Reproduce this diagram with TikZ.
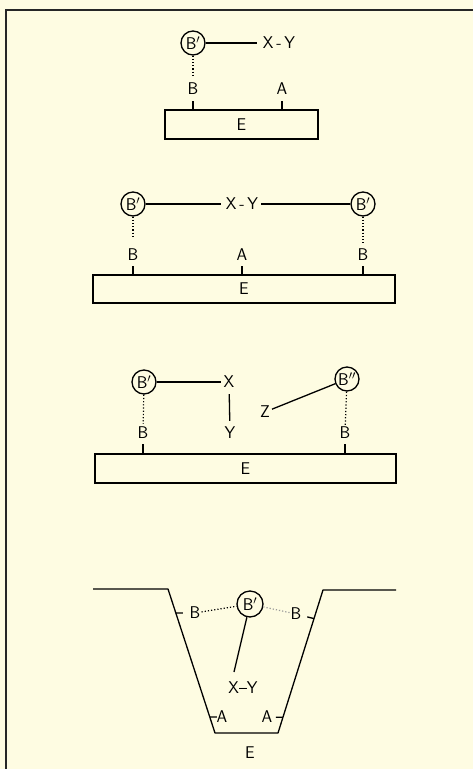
\documentclass[tikz,border=0pt]{standalone}
\usetikzlibrary{calc}
\definecolor{papercream}{RGB}{254,252,226}
\tikzset{
  lbl/.style={font=\sffamily\fontsize{17}{20}\selectfont, inner sep=1pt},
  bubble/.style={lbl, draw, circle, line width=1.3pt, minimum size=24pt, inner sep=0pt},
  plate/.style={lbl, draw, line width=1.3pt},
  link/.style={line width=1.3pt},
  guide/.style={dotted, line width=1.2pt}
}
\begin{document}
\begin{tikzpicture}[x=1pt, y=-1pt]
    % Paper and frame
    \fill[papercream] (0,0) rectangle (473,769);
    \useasboundingbox (0,0) rectangle (473,769);
    \draw[line width=2pt, black!85] (6,769) -- (6,10) -- (473,10);

    % Panel 1
    \node[plate, minimum width=153pt, minimum height=29pt] (box1) at (241.5,124.5) {E};
    \node[bubble] (c1) at (193,43) {B$'$};
    \node[lbl] (xy1) at (279,43) {X\,-\,Y};
    \node[lbl] (b1) at (193,89) {B};
    \node[lbl] (a1) at (282,89) {A};
    \draw[link, shorten >=5pt] (c1) -- (xy1);
    \draw[guide, shorten >=7pt] (c1) -- (b1);
    \foreach \t in {b1,a1}
        \draw[link, shorten <=5pt] (\t.south) -- (\t.south |- box1.north);

    % Panel 2
    \node[plate, minimum width=302pt, minimum height=28pt] (box2) at (244,289) {E};
    \node[bubble] (c2a) at (133,204) {B$'$};
    \node[bubble] (c2b) at (363,204) {B$'$};
    \node[lbl] (xy2) at (242,204) {X\,-\,Y};
    \node[lbl] (b2a) at (133,255) {B};
    \node[lbl] (a2) at (242,255) {A};
    \node[lbl] (b2b) at (363,255) {B};
    \draw[link, shorten >=4pt] (c2a) -- (xy2);
    \draw[link, shorten <=2pt] (xy2) -- (c2b);
    \draw[guide, shorten >=11pt] (c2a) -- (b2a);
    \draw[guide, shorten >=5pt] (c2b) -- (b2b);
    \foreach \t in {b2a,a2,b2b}
        \draw[link, shorten <=4pt] (\t.south) -- (\t.south |- box2.north);

    % Panel 3
    \node[plate, minimum width=301pt, minimum height=29pt] (box3) at (245.5,468.5) {E};
    \node[bubble] (c3a) at (144,382) {B$'$};
    \node[bubble] (c3b) at (347,379) {B$''$};
    \node[lbl] (x3) at (229,382) {X};
    \node[lbl] (y3) at (230,433) {Y};
    \node[lbl] (z3) at (265,412) {Z};
    \node[lbl] (b3a) at (143,433) {B};
    \node[lbl] (b3b) at (345,433) {B};
    \draw[link, shorten >=1pt] (c3a) -- (x3);
    \draw[link, shorten <=5pt, shorten >=5pt] (x3) -- (y3);
    \draw[link, shorten <=1pt] (z3) -- (c3b);
    \draw[guide, shorten >=2pt] (c3a) -- (b3a);
    \draw[guide] (c3b) -- (b3b);
    \foreach \t in {b3a,b3b}
        \draw[link, shorten <=4pt] (\t.south) -- (\t.south |- box3.north);

    % Panel 4
    \coordinate (tl) at (93,589);
    \coordinate (tlk) at (168,589);
    \coordinate (bl) at (215,733);
    \coordinate (br) at (278,733);
    \coordinate (trk) at (323,590);
    \coordinate (tr) at (396,590);
    \draw[link, line join=round] (tl) -- (tlk) -- (bl) -- (br) -- (trk) -- (tr);
    \coordinate (sbl) at ($(tlk)!0.167!(bl)$);
    \coordinate (sal) at ($(tlk)!0.889!(bl)$);
    \coordinate (sbr) at ($(br)!0.80!(trk)$);
    \coordinate (sar) at ($(br)!0.11!(trk)$);
    \node[bubble, minimum size=26pt] (c4) at (250,604) {B$'$};
    \node[lbl] (b4a) at (195,613) {B};
    \node[lbl] (b4b) at (296,614) {B};
    \node[lbl] (a4a) at (222,717) {A};
    \node[lbl] (a4b) at (267,717) {A};
    \node[lbl] (xy4) at (243,688) {X--Y};
    \node[lbl] at (250,753) {E};
    \coordinate (xytop) at (234,672);
    \draw[guide] (b4a) -- (c4);
    \draw[guide, black!40] (c4) -- (b4b);
    \draw[link] (c4) -- (xytop);
    \foreach \s/\t in {sbl/b4a, sal/a4a, sbr/b4b, sar/a4b}
        \draw[link] (\s) -- ($(\s)!7pt!(\t)$);
\end{tikzpicture}
\end{document}
